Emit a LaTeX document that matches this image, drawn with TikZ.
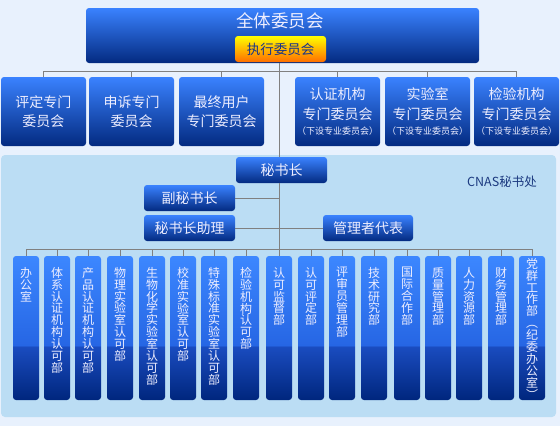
\documentclass[tikz,border=0pt]{standalone}
\usepackage{fontspec}
\setmainfont{Noto Sans CJK SC}
\definecolor{bgc}{RGB}{232,241,253}
\definecolor{panelc}{RGB}{187,221,244}
\definecolor{btop}{RGB}{58,130,255}
\definecolor{bbot}{RGB}{3,42,128}
\definecolor{linec}{RGB}{128,128,128}
\definecolor{txtc}{RGB}{238,238,255}
\definecolor{cnasc}{RGB}{28,58,128}
\definecolor{ytop}{RGB}{255,255,0}
\definecolor{ybot}{RGB}{255,110,0}
\definecolor{exectxt}{RGB}{20,50,140}
\definecolor{dtop}{RGB}{60,135,255}
\definecolor{dmidhi}{RGB}{38,102,228}
\definecolor{dmidlo}{RGB}{26,76,192}
\definecolor{dbot}{RGB}{0,38,125}
\pgfdeclareverticalshading{deptsh}{100bp}{color(0bp)=(dbot); color(25bp)=(dbot); color(43.5bp)=(dmidlo); color(44bp)=(dmidhi); color(75bp)=(dtop); color(100bp)=(dtop)}
\newcommand\myfs[2]{\fontsize{#1}{#2}\selectfont\lineskiplimit=-20pt\relax}
\begin{document}
\begin{tikzpicture}[x=1pt,y=-1pt,
  box/.style={rounded corners=3pt, top color=btop, bottom color=bbot, text=txtc, inner sep=0pt, align=center},
  combox/.style={box, minimum width=85pt, minimum height=69pt, font=\myfs{14}{19}},
  combox3/.style={box, minimum width=85pt, minimum height=69pt, font=\myfs{14}{20}},
  smallbox/.style={box, minimum height=26pt, font=\myfs{14}{17}},
  dept/.style={rounded corners=3pt, shading=deptsh, minimum width=26pt, minimum height=144pt, inner sep=0pt},
  depttxt/.style={anchor=north, align=center, inner sep=0pt, text=txtc, font=\myfs{12}{11.9}},
  conn/.style={draw=linec, line width=1pt}]
\useasboundingbox (0,0) rectangle (560,426);
\fill[bgc] (0,0) rectangle (560,426);
\fill[panelc, rounded corners=4pt] (1,155) rectangle (556,417);
\node[text=cnasc, font=\myfs{12.5}{15}, inner sep=0pt] (cnas) at (502,182) {CNAS秘书处};

% top
\node[box, minimum width=393pt, minimum height=55pt] (quan) at (282.5,35.5) {};
\node[text=txtc, font=\myfs{17.5}{20}, inner sep=0pt] (quantxt) at (280,21) {全体委员会};
\node[rounded corners=3pt, top color=ytop, bottom color=ybot, text=exectxt, font=\myfs{13.5}{16}, minimum width=91pt, minimum height=26pt, inner sep=0pt] (zhixing) at (280.5,49) {执行委员会};

% committees
\node[combox] (c1) at (43.5,111.5) {评定专门\\委员会};
\node[combox] (c2) at (131.5,111.5) {申诉专门\\委员会};
\node[combox] (c3) at (221.5,111.5) {最终用户\\专门委员会};
\node[combox3] (c4) at (337.5,111.5) {认证机构\\专门委员会\\[-5pt]{\myfs{9}{10}（下设专业委员会）}};
\node[combox3] (c5) at (427.5,111.5) {实验室\\专门委员会\\[-5pt]{\myfs{9}{10}（下设专业委员会）}};
\node[combox3] (c6) at (516.5,111.5) {检验机构\\专门委员会\\[-5pt]{\myfs{9}{10}（下设专业委员会）}};

% secretariat
\node[smallbox, minimum width=91pt] (mish) at (281.5,170) {秘书长};
\node[smallbox, minimum width=91pt] (fu) at (189.5,198) {副秘书长};
\node[smallbox, minimum width=91pt] (zhu) at (189.5,228) {秘书长助理};
\node[smallbox, minimum width=90pt] (guan) at (368,228) {管理者代表};

% departments
\foreach \x/\n/\t in {
  13/1/{办\\公\\室},
  44/2/{体\\系\\认\\证\\机\\构\\认\\可\\部},
  75/3/{产\\品\\认\\证\\机\\构\\认\\可\\部},
  107/4/{物\\理\\实\\验\\室\\认\\可\\部},
  139/5/{生\\物\\化\\学\\实\\验\\室\\认\\可\\部},
  170/6/{校\\准\\实\\验\\室\\认\\可\\部},
  201/7/{特\\殊\\标\\准\\实\\验\\室\\认\\可\\部},
  233/8/{检\\验\\机\\构\\认\\可\\部},
  266/9/{认\\可\\监\\督\\部},
  298/10/{认\\可\\评\\定\\部},
  329/11/{评\\审\\员\\管\\理\\部},
  361/12/{技\\术\\研\\究\\部},
  394/13/{国\\际\\合\\作\\部},
  425/14/{质\\量\\管\\理\\部},
  456/15/{人\\力\\资\\源\\部},
  488/16/{财\\务\\管\\理\\部}}{
  \node[dept] (d\n) at (\x+13,328) {};
  \node[depttxt] (t\n) at (\x+13,267) {\t};
}
\node[dept] (d17) at (532,328) {};
\node[depttxt] (t17) at (532,258) {党\\群\\工\\作\\部\\︵\\纪\\委\\办\\公\\室\\︶};

% connectors
\coordinate (tr) at (279,0);
\coordinate (busA) at (0,71);
\coordinate (busB) at (0,249);
\draw[conn] (quan.south -| tr) -- (mish.north -| tr);
\draw[conn] (mish.south -| tr) -- (d9.north -| tr);
\draw[conn] (c1.north |- busA) -- (c6.north |- busA);
\foreach \i in {1,...,6} \draw[conn] (c\i.north) -- (c\i.north |- busA);
\draw[conn] (fu.east) -- (fu.east -| tr);
\draw[conn] (zhu.east) -- (guan.west);
\draw[conn] (d1.north |- busB) -- (d17.north |- busB);
\foreach \i in {1,...,8,10,11,12,13,14,15,16,17} \draw[conn] (d\i.north) -- (d\i.north |- busB);
\end{tikzpicture}
\end{document}
